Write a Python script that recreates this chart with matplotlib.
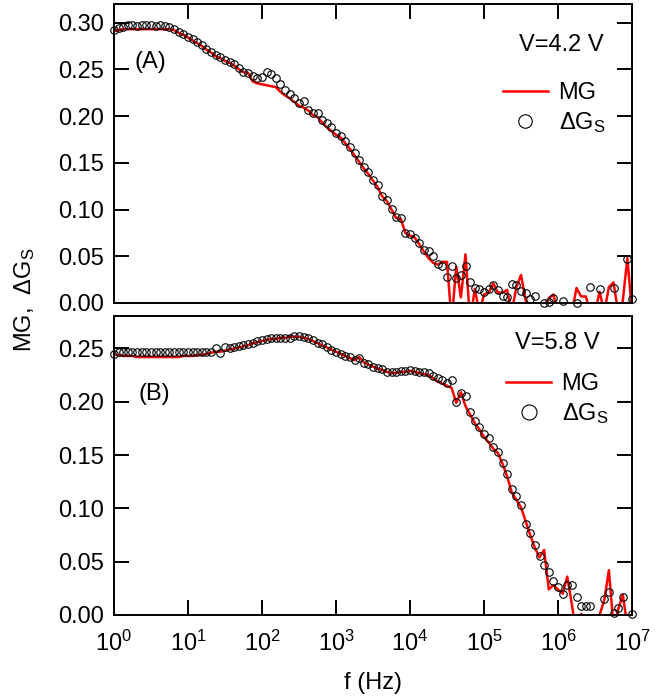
import numpy as np
import matplotlib
matplotlib.use("Agg")
import matplotlib.pyplot as plt
from matplotlib.ticker import FixedLocator, FormatStrFormatter

plt.rcParams['font.family'] = ['Liberation Sans', 'DejaVu Sans']
plt.rcParams['mathtext.fontset'] = 'custom'
plt.rcParams['mathtext.rm'] = 'Liberation Sans'
plt.rcParams['mathtext.it'] = 'Liberation Sans:italic'
plt.rcParams['mathtext.default'] = 'regular'

# frequency grid, log10(f / Hz), same for all series
log_f = [0.0, 0.0625, 0.125, 0.1875, 0.25, 0.3125, 0.375, 0.4375, 0.5, 0.5625, 0.625, 0.6875, 0.75, 0.8125, 0.875, 0.9375,
         1.0, 1.0625, 1.125, 1.1875, 1.25, 1.3125, 1.375, 1.4375, 1.5, 1.5625, 1.625, 1.6875, 1.75, 1.8125, 1.875, 1.9375,
         2.0, 2.0625, 2.125, 2.1875, 2.25, 2.3125, 2.375, 2.4375, 2.5, 2.5625, 2.625, 2.6875, 2.75, 2.8125, 2.875, 2.9375,
         3.0, 3.0625, 3.125, 3.1875, 3.25, 3.3125, 3.375, 3.4375, 3.5, 3.5625, 3.625, 3.6875, 3.75, 3.8125, 3.875, 3.9375,
         4.0, 4.0625, 4.125, 4.1875, 4.25, 4.3125, 4.375, 4.4375, 4.5, 4.5625, 4.625, 4.6875, 4.75, 4.8125, 4.875, 4.9375,
         5.0, 5.0625, 5.125, 5.1875, 5.25, 5.3125, 5.375, 5.4375, 5.5, 5.5625, 5.625, 5.6875, 5.75, 5.8125, 5.875, 5.9375,
         6.0, 6.0625, 6.125, 6.1875, 6.25, 6.3125, 6.375, 6.4375, 6.5, 6.5625, 6.625, 6.6875, 6.75, 6.8125, 6.875, 6.9375,
         7.0]
nan = np.nan

# panel A, V=4.2 V
top_dg = [0.292, 0.294, 0.295, 0.297, 0.297, 0.296, 0.297, 0.297, 0.297, 0.296, 0.297, 0.296, 0.295, 0.293, 0.290, 0.288,
          0.285, 0.282, 0.279, 0.276, 0.272, 0.269, 0.265, 0.263, 0.260, 0.258, 0.256, 0.251, 0.247, 0.246, 0.243, 0.241,
          0.242, 0.247, 0.245, 0.241, 0.234, 0.228, 0.224, 0.219, 0.214, 0.216, 0.206, 0.203, 0.203, 0.196, 0.193, 0.188,
          0.182, 0.179, 0.173, 0.167, 0.160, 0.153, 0.146, 0.140, 0.132, 0.126, 0.115, 0.110, 0.101, 0.092, 0.091, 0.075,
          0.074, 0.070, 0.064, 0.057, 0.056, 0.050, 0.042, 0.040, 0.028, 0.040, 0.027, 0.030, 0.040, 0.022, 0.016, 0.015,
          0.012, 0.015, 0.019, 0.014, 0.007, 0.006, 0.020, 0.019, 0.013, 0.011, 0.004, 0.007, nan, 0.000, 0.001, 0.005,
          nan, 0.002, nan, nan, 0.000, nan, nan, 0.017, nan, 0.015, nan, nan, 0.016, nan, nan, 0.047,
          0.004]
top_mg = [0.291, 0.292, 0.293, 0.293, 0.293, 0.293, 0.293, 0.293, 0.293, 0.293, 0.293, 0.293, 0.293, 0.292, 0.289, 0.287,
          0.284, 0.281, 0.278, 0.275, 0.271, 0.268, 0.264, 0.262, 0.259, 0.257, 0.254, 0.250, 0.247, 0.246, 0.237, 0.235,
          0.234, 0.233, 0.232, 0.231, 0.226, 0.222, 0.219, 0.215, 0.211, 0.209, 0.206, 0.201, 0.199, 0.193, 0.188, 0.184,
          0.180, 0.177, 0.171, 0.165, 0.158, 0.151, 0.144, 0.138, 0.131, 0.124, 0.114, 0.109, 0.100, 0.091, 0.090, 0.075,
          0.072, 0.070, 0.063, 0.055, 0.048, 0.043, 0.041, 0.044, 0.044, -0.02, 0.039, 0.006, 0.052, -0.02, 0.015, -0.01,
          0.009, 0.011, 0.021, 0.011, 0.011, 0.014, -0.01, 0.017, 0.030, 0.003, -0.01, -0.01, -0.01, -0.01, 0.005, 0.009,
          -0.01, -0.01, -0.01, -0.01, 0.016, 0.007, 0.007, -0.01, -0.01, 0.012, -0.01, 0.017, 0.022, -0.01, 0.002, 0.048,
          -0.01]

# panel B, V=5.8 V
bot_dg = [0.245, 0.247, 0.247, 0.247, 0.247, 0.247, 0.247, 0.247, 0.247, 0.247, 0.247, 0.247, 0.247, 0.247, 0.247, 0.247,
          0.247, 0.247, 0.247, 0.247, 0.247, 0.247, 0.250, 0.246, 0.251, 0.250, 0.251, 0.252, 0.253, 0.254, 0.255, 0.257,
          0.258, 0.259, 0.260, 0.260, 0.260, 0.260, 0.260, 0.262, 0.262, 0.261, 0.260, 0.258, 0.255, 0.254, 0.251, 0.249,
          0.247, 0.245, 0.243, 0.242, 0.239, 0.241, 0.236, 0.235, 0.233, 0.232, 0.231, 0.228, 0.228, 0.228, 0.229, 0.229,
          0.230, 0.229, 0.228, 0.228, 0.227, 0.224, 0.222, 0.220, 0.218, 0.220, 0.200, 0.208, 0.205, 0.190, 0.182, 0.176,
          0.170, 0.166, 0.158, 0.153, 0.143, 0.132, 0.118, 0.112, 0.103, 0.085, 0.077, 0.066, 0.055, 0.047, 0.040, 0.032,
          0.026, 0.020, 0.028, 0.028, 0.017, 0.008, 0.008, 0.008, nan, nan, 0.015, 0.022, 0.002, 0.007, 0.017, nan,
          0.001]
bot_mg = [0.244, 0.244, 0.243, 0.243, 0.243, 0.242, 0.242, 0.242, 0.242, 0.242, 0.242, 0.242, 0.242, 0.242, 0.242, 0.243,
          0.243, 0.243, 0.244, 0.244, 0.245, 0.246, 0.247, 0.247, 0.248, 0.249, 0.250, 0.251, 0.252, 0.253, 0.255, 0.256,
          0.257, 0.258, 0.259, 0.259, 0.260, 0.260, 0.261, 0.261, 0.261, 0.260, 0.259, 0.257, 0.255, 0.253, 0.251, 0.249,
          0.247, 0.245, 0.243, 0.241, 0.239, 0.242, 0.237, 0.235, 0.233, 0.231, 0.230, 0.228, 0.227, 0.227, 0.228, 0.228,
          0.229, 0.228, 0.227, 0.226, 0.225, 0.222, 0.219, 0.217, 0.215, 0.213, 0.199, 0.209, 0.196, 0.188, 0.180, 0.174,
          0.167, 0.162, 0.156, 0.152, 0.142, 0.130, 0.115, 0.108, 0.101, 0.088, 0.075, 0.063, 0.054, 0.061, 0.024, 0.028,
          0.024, 0.020, 0.036, 0.010, -0.02, 0.001, -0.02, -0.02, -0.02, 0.000, 0.014, 0.042, -0.01, 0.005, 0.019, -0.01,
          -0.01]

f = 10 ** np.array(log_f)
FS = 17

fig = plt.figure(figsize=(6.69, 6.96), dpi=100)
ax1 = fig.add_axes([0.1704, 0.5647, 0.7743, 0.4296])
ax2 = fig.add_axes([0.1704, 0.1164, 0.7743, 0.4296])

panels = [
    (ax1, top_mg, top_dg, 0.320, [0, 0.05, 0.10, 0.15, 0.20, 0.25, 0.30], "V=4.2 V", (0.946, 0.863), "(A)", (0.039, 0.806), (0.751, 0.650), 1.8),
    (ax2, bot_mg, bot_dg, 0.2805, [0, 0.05, 0.10, 0.15, 0.20, 0.25], "V=5.8 V", (0.938, 0.910), "(B)", (0.048, 0.739), (0.757, 0.721), 2.0),
]

for ax, mg, dg, ytop, yt, vtxt, vpos, tag, tagpos, legpos, mscale in panels:
    ax.plot(f, mg, color='red', lw=1.8, label='MG', zorder=2)
    ax.plot(f, dg, ls='none', marker='o', ms=5.4, mfc='none', mec='black', mew=0.8,
            label=r'$\Delta$G$_\mathrm{S}$', zorder=3, clip_on=False)
    ax.set_xscale('log')
    ax.set_xlim(1, 1e7)
    ax.set_ylim(0, ytop)
    ax.yaxis.set_major_locator(FixedLocator(yt))
    ax.yaxis.set_major_formatter(FormatStrFormatter('%.2f'))
    ax.xaxis.set_major_locator(FixedLocator([10 ** k for k in range(8)]))
    ax.xaxis.set_minor_locator(FixedLocator([]))
    for s in ax.spines.values():
        s.set_linewidth(1.4)
    ax.tick_params(which='major', direction='in', length=11, width=1.4, labelsize=FS,
                   left=True, right=True, pad=7)
    ax.text(vpos[0], vpos[1], vtxt, transform=ax.transAxes, ha='right', va='center', fontsize=FS)
    ax.text(tagpos[0], tagpos[1], tag, transform=ax.transAxes, ha='left', va='center', fontsize=FS)
    ax.legend(loc='center left', bbox_to_anchor=legpos, frameon=False, fontsize=FS,
              borderpad=0, borderaxespad=0, handlelength=1.9, handletextpad=0.45,
              labelspacing=0.25, numpoints=1, markerscale=mscale)

# top panel: x ticks on the top spine only, no labels
ax1.tick_params(axis='x', top=True, bottom=False, labelbottom=False, labeltop=False)
ax2.tick_params(axis='x', top=False, bottom=True, labelbottom=True, pad=11)

fig.text(25 / 669, 1 - 300 / 696, r'MG,  $\Delta$G$_\mathrm{S}$', rotation=90,
         ha='center', va='center', fontsize=FS)
fig.text(373 / 669, 1 - 683 / 696, 'f (Hz)', ha='center', va='center', fontsize=FS)

fig.savefig('out.png', dpi=100)
